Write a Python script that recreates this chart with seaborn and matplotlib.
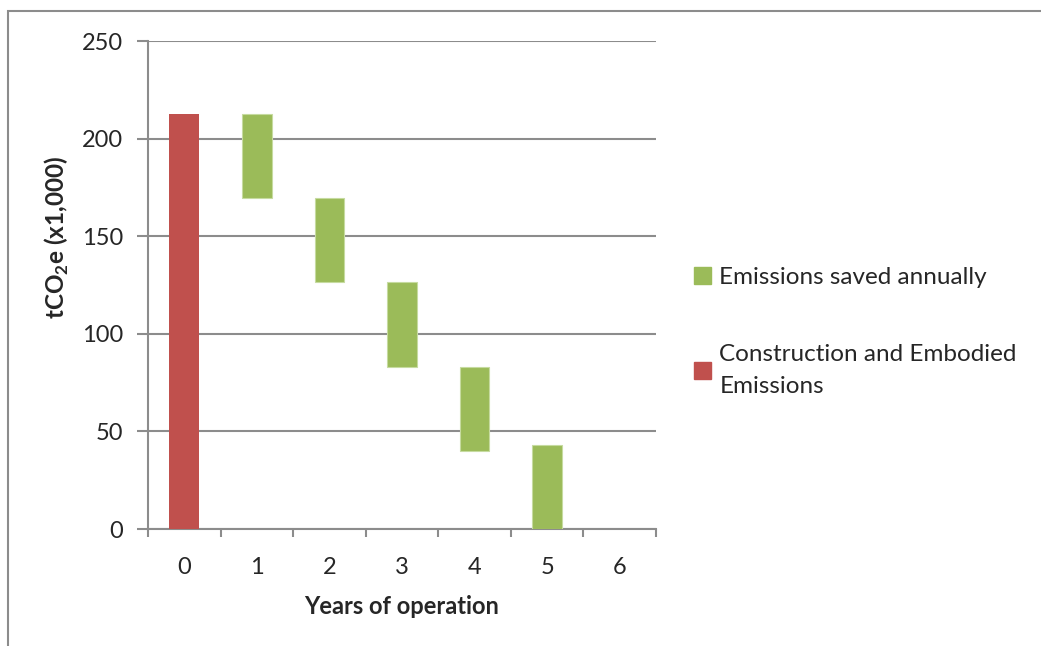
import matplotlib
matplotlib.use('Agg')
import matplotlib.pyplot as plt
from matplotlib.patches import Patch, Rectangle
import numpy as np
import pandas as pd
import seaborn as sns

# data (tCO2e x1,000)
years = [0, 1, 2, 3, 4, 5, 6]
construction_years = [0]
construction_top = [212.8]
saved_years = [1, 2, 3, 4, 5]
saved_top = [212.6, 169.7, 126.3, 83.1, 42.9]
saved_bottom = [169.7, 126.3, 83.1, 39.8, 0.0]
yticks = [0, 50, 100, 150, 200, 250]

green = '#9BBB59'
red = '#C0504D'
grid_col = '#8C8C8C'

sns.set_style('white')
plt.rcParams['font.family'] = ['Lato', 'DejaVu Sans']
plt.rcParams['mathtext.fontset'] = 'custom'
plt.rcParams['mathtext.bf'] = 'Lato:bold'
plt.rcParams['mathtext.rm'] = 'Lato'

fig = plt.figure(figsize=(10.41, 6.46), dpi=100)
ax = fig.add_axes([148 / 1041, 1 - 529 / 646, 508 / 1041, 488 / 646])

order = [str(y) for y in years]
df_c = pd.DataFrame({'year': [str(y) for y in construction_years], 'val': construction_top})
df_s = pd.DataFrame({'year': [str(y) for y in saved_years],
                     'val': np.array(saved_top) - np.array(saved_bottom),
                     'bottom': saved_bottom})

sns.barplot(data=df_c, x='year', y='val', order=order, color=red, saturation=1,
            width=0.41, ax=ax, linewidth=0, zorder=3)
sns.barplot(data=df_s, x='year', y='val', order=order, color=green, saturation=1,
            width=0.41, ax=ax, bottom=df_s['bottom'].values, edgecolor='#C6DBA0',
            linewidth=0.8, zorder=3)

ax.set_xlim(-0.5, 6.5)
ax.set_ylim(0, 250)
ax.set_yticks(yticks)
ax.set_yticklabels([str(v) for v in yticks], fontsize=17)
ax.yaxis.grid(True, color=grid_col, linewidth=1.5)
ax.set_axisbelow(True)

# excel-style category ticks between bars, labels at centres
ax.set_xticks(np.arange(-0.5, 7, 1))
ax.set_xticklabels([])
ax.set_xticks(range(len(years)), minor=True)
ax.set_xticklabels(order, minor=True, fontsize=17)
ax.tick_params(axis='x', which='major', bottom=True, length=6, width=1.5, color=grid_col, direction='out')
ax.tick_params(axis='x', which='minor', bottom=True, length=0, pad=20)
ax.tick_params(axis='y', left=True, length=8, width=1.5, color=grid_col, direction='out', pad=10)

for s in ['top', 'right']:
    ax.spines[s].set_visible(False)
for s in ['left', 'bottom']:
    ax.spines[s].set_color(grid_col)
    ax.spines[s].set_linewidth(1.5)

ax.set_xlabel('Years of operation', fontsize=17, fontweight='bold')
ax.xaxis.set_label_coords(0.5, -(595 - 529) / 488)
ax.set_ylabel(r'tCO$_\mathbf{2}$e (x1,000)', fontsize=17.5, fontweight='bold')
ax.yaxis.set_label_coords(-(148 - 71) / 508, (529 - 237) / 488)

handles = [Patch(color=green, label='Emissions saved annually'),
           Patch(color=red, label='Construction and Embodied\nEmissions')]
leg = fig.legend(handles=handles, loc='upper left', bbox_to_anchor=(672 / 1041, 1 - 245 / 646),
                 frameon=False, fontsize=17.5, handlelength=0.7, handleheight=0.7,
                 handletextpad=0.35, labelspacing=2.3)
for t in leg.get_texts():
    t.set_linespacing(1.65)

# outer chart frame
fig.patches.append(Rectangle((8 / 1041, -0.1), 1.2, 1.1 - 11 / 646, transform=fig.transFigure,
                             fill=False, edgecolor='#8C8C8C', linewidth=1.5))

fig.savefig('out.png', dpi=100)
